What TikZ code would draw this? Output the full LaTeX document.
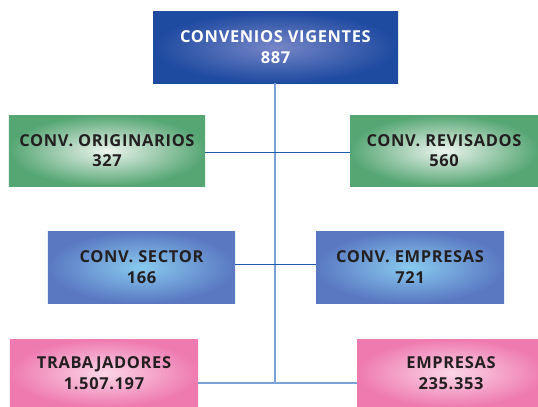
\documentclass[tikz,border=0pt]{standalone}
\usepackage{fontspec}
\setmainfont{Open Sans}[LetterSpace=4]

\definecolor{vigIn}{RGB}{118,134,200}
\definecolor{vigOut}{RGB}{30,74,160}
\definecolor{verdeIn}{RGB}{236,244,238}
\definecolor{verdeOut}{RGB}{86,166,116}
\definecolor{azulIn}{RGB}{136,202,238}
\definecolor{azulOut}{RGB}{90,120,194}
\definecolor{rosaIn}{RGB}{251,214,231}
\definecolor{rosaOut}{RGB}{238,122,176}
\definecolor{lineaOsc}{RGB}{30,90,170}
\definecolor{lineaClara}{RGB}{122,162,214}
\definecolor{texto}{RGB}{35,31,32}

\begin{document}
\begin{tikzpicture}[x=1bp, y=-1bp,
  caja/.style={inner sep=0pt, align=center, text=texto,
    font=\bfseries\fontsize{16.5}{20.5}\selectfont},
  verde/.style={caja, inner color=verdeIn, outer color=verdeOut},
  azul/.style={caja, inner color=azulIn, outer color=azulOut},
  rosa/.style={caja, inner color=rosaIn, outer color=rosaOut},
  conOsc/.style={draw=lineaOsc, line width=1.3bp},
  conClaro/.style={draw=lineaClara, line width=1.8bp}]
  \clip (0,0) rectangle (538,406);
  \useasboundingbox (0,0) rectangle (538,406);
  % cajas
  \node[caja, text=white, inner color=vigIn, outer color=vigOut,
    minimum width=245bp, minimum height=72bp] (vig) at (275.5,47)
    {CONVENIOS VIGENTES\\887};
  \node[verde, minimum width=196bp, minimum height=71bp] (orig) at (107,150.5)
    {CONV. ORIGINARIOS\\327};
  \node[verde, minimum width=188bp, minimum height=71bp] (rev) at (444,150.5)
    {CONV. REVISADOS\\560};
  \node[azul, minimum width=187bp, minimum height=72bp] (sect) at (141.5,267)
    {CONV. SECTOR\\166};
  \node[azul, minimum width=188bp, minimum height=72bp] (emp) at (410,267)
    {CONV. EMPRESAS\\721};
  \node[rosa, minimum width=188bp, minimum height=68bp] (trab) at (104,373)
    {TRABAJADORES\\1.507.197};
  \node[rosa, minimum width=188bp, minimum height=68bp] (empr) at (451,373)
    {EMPRESAS\\235.353};
  \coordinate (pie) at ([xshift=-0.5bp, yshift=-10bp]vig.south |- trab.east);
  % conectores
  \draw[conClaro] ([xshift=-0.5bp]vig.south) -- (pie);
  \draw[conClaro] ([yshift=-10bp]trab.east) -- ([yshift=-10bp]empr.west);
  \draw[conOsc] ([yshift=-1.8bp]orig.east) -- ([yshift=-1.8bp]rev.west);
  \draw[conOsc] ([yshift=2.7bp]sect.east) -- ([yshift=2.7bp]emp.west);
\end{tikzpicture}
\end{document}
